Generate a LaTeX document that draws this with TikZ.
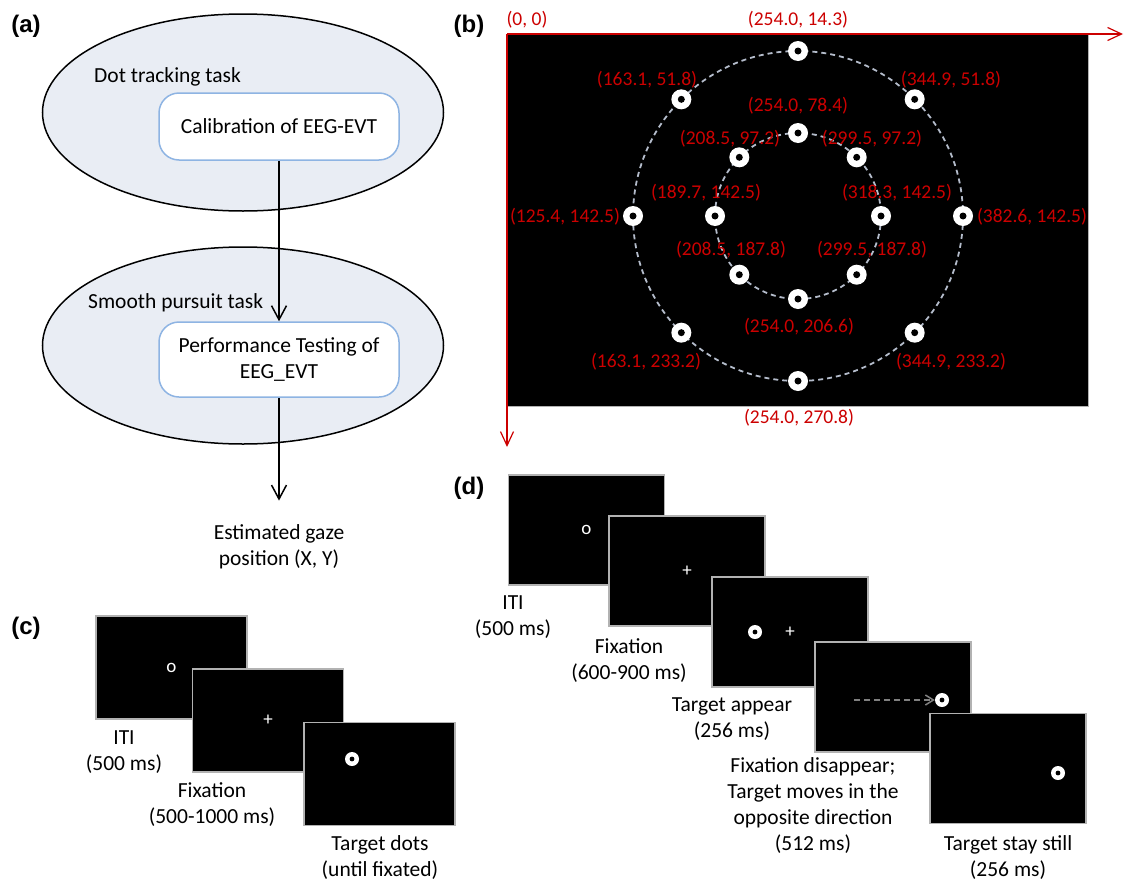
\documentclass[tikz,border=0pt]{standalone}
\usepackage{fontspec}
\setmainfont{Carlito}
\newfontfamily\panelfont{Liberation Sans}
\usetikzlibrary{shapes.geometric,arrows.meta}
\definecolor{taskfill}{HTML}{E9EDF4}
\definecolor{boxline}{HTML}{8EB4E3}
\definecolor{coordred}{RGB}{204,0,0}
\definecolor{orbitgray}{HTML}{B4BCCB}

\begin{document}
\begin{tikzpicture}[x=1pt,y=-1pt,
	txt/.style={inner sep=0pt,align=center,font=\fontsize{21.5}{26}\selectfont},
	panel/.style={inner sep=0pt,font=\panelfont\bfseries\fontsize{24}{28}\selectfont},
	task/.style={draw,ellipse,fill=taskfill,line width=1.5pt,minimum width=401pt,minimum height=197pt},
	stage/.style={draw=boxline,fill=white,rounded corners=20pt,line width=1.5pt,minimum width=240pt,txt},
	arr/.style={line width=1.5pt,-{Straight Barb[length=14pt,width=15pt]}},
	coord/.style={text=coordred,inner sep=0pt,font=\fontsize{19.5}{22}\selectfont},
	axis/.style={draw=coordred,line width=1.2pt,-{Straight Barb[length=14pt,width=13pt]}},
	orbit/.style={draw=orbitgray,line width=1.8pt,dash pattern=on 5pt off 4pt},
	ring/.style={circle,fill=white,minimum size=20pt,inner sep=0pt,
		path picture={\fill[black] (path picture bounding box.center) circle (3.5pt);}},
	target/.style={circle,fill=white,minimum size=14pt,inner sep=0pt,
		path picture={\fill[black] (path picture bounding box.center) circle (2.4pt);}},
	screen/.style={draw=gray!60,fill=black,line width=1.2pt,minimum width=151pt,minimum height=103pt,inner sep=0pt},
	dscreen/.style={screen,minimum width=156pt,minimum height=110pt},
	sym/.style={text=white,inner sep=0pt,font=\fontsize{19}{19}\selectfont}]
	\useasboundingbox (0,0) rectangle (1124,881);

	% (a)
	\node[panel] (pa) at (26,26) {(a)};
	\node[task] (dotTask) at (243,112.5) {};
	\node[task] (pursuitTask) at (243,345.5) {};
	\node[txt,anchor=west] (dotTitle) at (94,77) {Dot tracking task};
	\node[txt,anchor=west] (pursuitTitle) at (88,303) {Smooth pursuit task};
	\node[stage,minimum height=67pt] (calib) at (279,126.5) {Calibration of EEG-EVT};
	\node[stage,minimum height=75pt] (perfTest) at (279,359.5) {Performance Testing of\\EEG\_EVT};
	\node[txt] (gaze) at (279,547) {Estimated gaze\\position (X, Y)};
	\draw[arr] (calib.south) -- (perfTest.north);
	\draw[arr] (perfTest.south) -- ([yshift=24pt]gaze.north);

	% (b)
	\node[panel] (pb) at (469,26) {(b)};
	\node[draw=gray!60,fill=black,line width=1pt,minimum width=581pt,minimum height=372pt,
		anchor=north west,inner sep=0pt] (screenB) at (507,34) {};
	\coordinate (origin) at (screenB.north west);
	\coordinate (xEnd) at (1123,34);
	\coordinate (yEnd) at (507,447);
	\draw[axis] (origin) -- (xEnd);
	\draw[axis] (origin) -- (yEnd);
	\coordinate (ctr) at (798,216);
	\draw[orbit] (ctr) circle (165);
	\draw[orbit] (ctr) circle (83);
	\begin{scope}[shift={(ctr)}]
		\foreach \a [count=\k] in {0,45,...,315} {
			\node[ring] (outer\k) at (\a:165) {};
			\node[ring] (inner\k) at (\a:83) {};
		}
	\end{scope}
	\foreach \x/\y/\t [count=\k] in {527/20/{(0, 0)},798/20/{(254.0, 14.3)},
		647/80/{(163.1, 51.8)},951/80/{(344.9, 51.8)},798/106/{(254.0, 78.4)},
		730/139/{(208.5, 97.2)},872/139/{(299.5, 97.2)},706/193/{(189.7, 142.5)},
		897/193/{(318.3, 142.5)},565/217/{(125.4, 142.5)},1032/217/{(382.6, 142.5)},
		731/250/{(208.5, 187.8)},872/250/{(299.5, 187.8)},799/327/{(254.0, 206.6)},
		646/362/{(163.1, 233.2)},951/362/{(344.9, 233.2)},799/418/{(254.0, 270.8)}}
		\node[coord] (lab\k) at (\x,\y) {\t};

	% (c)
	\node[panel] (pc) at (26,628) {(c)};
	\node[screen] (c1) at (171.5,667.5) {};
	\node[screen] (c2) at (268,720.5) {};
	\node[screen] (c3) at (379.5,774) {};
	\node[sym] (c1o) at (c1) {o};
	\node[sym] (c2p) at (c2) {+};
	\node[target] (c3t) at (352,759) {};
	\node[txt] (c1l) at (124,752.5) {ITI\\(500 ms)};
	\node[txt] (c2l) at (212,805) {Fixation\\(500-1000 ms)};
	\node[txt] (c3l) at (380,858) {Target dots\\(until fixated)};

	% (d)
	\node[panel] (pd) at (469,488) {(d)};
	\node[dscreen] (d1) at (586.5,530) {};
	\node[dscreen] (d2) at (687,571) {};
	\node[dscreen] (d3) at (790,632) {};
	\node[dscreen] (d4) at (893,697) {};
	\node[dscreen] (d5) at (1008,768.5) {};
	\node[sym] (d1o) at (d1) {o};
	\node[sym] (d2p) at (d2) {+};
	\node[target] (d3t) at (755,632) {};
	\node[sym] (d3p) at (d3) {+};
	\coordinate (moveStart) at (854,700);
	\node[target] (d4t) at (942,700) {};
	\draw[draw=gray,line width=1.5pt,dash pattern=on 6pt off 4pt,-{Straight Barb[length=8pt,width=10pt]}] (moveStart) -- (d4t);
	\node[target] (d5t) at (1058,773) {};
	\node[txt] (d1l) at (513,617) {ITI\\(500 ms)};
	\node[txt] (d2l) at (629,660.5) {Fixation\\(600-900 ms)};
	\node[txt] (d3l) at (732,719.5) {Target appear\\(256 ms)};
	\node[txt] (d4l) at (813,806) {Fixation disappear;\\Target moves in the\\opposite direction\\(512 ms)};
	\node[txt] (d5l) at (1008,858) {Target stay still\\(256 ms)};
\end{tikzpicture}
\end{document}
